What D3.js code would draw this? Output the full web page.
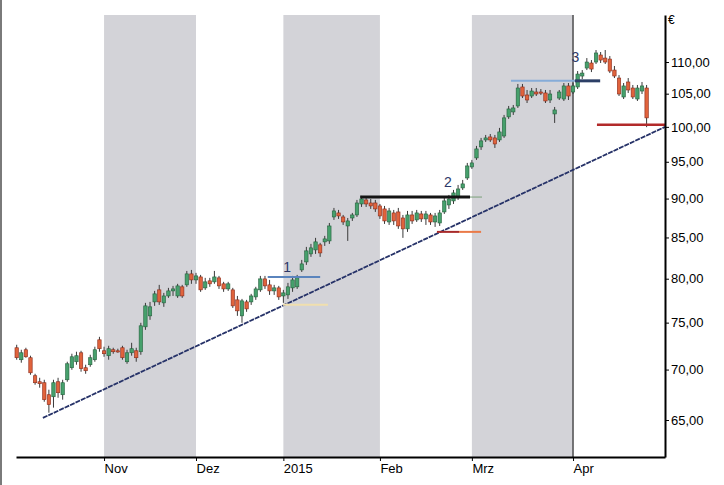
<!DOCTYPE html>
<html><head><meta charset="utf-8">
<script src="https://cdn.jsdelivr.net/npm/d3@7"></script>
<style>body{margin:0;background:#fff}svg{display:block}</style>
</head><body>
<svg id="c" width="724" height="485"></svg>
<script>
// ---- data ----
const startDate = "2014-10-07";
const endDate = "2015-04-27";
const holidays = ["2014-12-24","2014-12-25","2014-12-26","2014-12-31","2015-01-01","2015-04-03","2015-04-06"];

const open = [
72.28,71.02,72.07,71.23,69.37,68.76,68.66,67.46,67.26,68.76,
67.46,68.96,70.19,70.81,71.75,70.19,70.50,71.02,73.13,71.96,
71.44,72.07,71.96,72.28,70.81,71.75,71.96,71.86,74.54,75.75,
77.32,78.70,77.21,78.00,78.58,78.00,79.05,79.28,80.57,79.86,
80.21,78.93,79.75,79.63,80.10,79.40,78.81,78.70,77.55,75.75,
77.32,77.32,77.89,78.70,79.98,79.28,78.58,78.93,78.00,78.12,
78.93,79.05,81.04,82.00,82.97,83.46,84.08,84.45,84.57,87.60,
88.12,87.60,86.45,87.47,87.86,89.29,89.82,89.42,89.42,89.03,
88.64,86.96,88.12,88.25,87.47,86.08,87.86,87.22,87.99,87.35,
87.86,86.96,86.83,88.25,89.16,89.69,90.22,91.42,92.77,94.28,
95.54,97.10,98.10,98.53,98.39,98.10,98.67,101.48,102.22,103.12,
106.04,104.80,104.64,105.26,105.26,105.11,104.03,101.92,104.33,104.18,
106.20,105.26,106.04,107.76,109.03,109.84,110.00,111.14,110.64,110.48,
108.71,107.44,104.49,106.82,105.88,104.18,105.41,105.88];
const high = [
72.60,72.07,72.28,71.44,69.57,69.16,68.96,67.96,68.96,69.16,
68.96,70.81,71.65,71.86,71.96,70.50,71.54,72.39,73.45,72.39,
72.49,72.28,72.18,72.49,72.07,72.81,72.28,74.98,77.21,77.32,
78.58,79.28,78.35,78.93,79.16,79.40,79.28,80.92,81.04,80.69,
80.45,80.10,80.10,80.92,80.33,79.63,79.63,78.93,78.00,77.66,
77.55,78.24,79.05,80.33,80.33,79.86,79.28,79.16,78.70,79.51,
80.33,80.45,82.24,83.83,84.20,84.95,84.33,85.20,86.83,88.77,
88.51,87.86,87.47,88.12,89.82,90.35,90.22,89.95,89.82,89.29,
89.03,88.77,88.51,88.77,87.86,88.38,88.38,88.51,88.38,88.38,
88.12,88.12,88.51,90.09,90.48,91.15,91.82,92.50,94.84,95.26,
97.24,98.39,98.82,98.96,98.82,99.85,101.77,103.12,103.27,106.51,
106.51,105.57,105.88,105.88,105.72,105.57,105.57,102.97,105.57,106.66,
106.66,106.66,108.55,108.71,110.64,110.32,111.96,111.63,111.96,110.97,
109.36,107.91,106.66,107.44,106.35,106.35,106.82,106.35];
const low = [
71.02,70.71,71.23,69.47,68.46,68.16,66.77,65.70,66.19,67.16,
66.97,68.76,69.98,70.50,69.78,69.57,70.29,70.81,71.86,71.33,
71.02,71.65,71.75,71.02,70.60,71.44,70.81,71.54,74.21,75.31,
76.87,76.98,76.76,77.78,78.00,77.78,77.78,79.05,79.40,79.40,
78.47,78.70,79.05,79.40,78.81,78.47,78.58,76.64,75.75,74.98,
76.20,76.98,77.55,78.47,78.81,78.12,78.12,77.55,77.21,77.66,
78.47,78.81,80.80,81.64,82.61,82.97,82.61,83.95,84.20,87.22,
87.35,86.58,84.57,87.09,87.60,88.90,88.90,88.64,88.25,87.35,
86.71,86.58,86.58,86.08,84.95,85.70,86.71,86.96,86.96,86.58,
86.58,86.33,86.45,87.99,88.64,89.29,89.82,91.15,92.50,94.01,
95.26,96.67,97.81,97.81,96.95,97.81,98.39,101.18,101.77,102.82,
104.33,103.57,104.33,104.64,104.80,103.57,103.57,100.58,104.03,103.88,
104.03,104.95,105.72,107.28,108.71,108.39,109.68,109.84,109.68,108.23,
107.44,104.64,104.18,105.11,104.18,103.88,104.95,99.96];
const close = [
71.23,71.75,71.33,69.67,68.66,68.56,66.97,66.48,68.66,67.66,
68.66,70.60,71.33,71.44,70.09,69.88,71.23,72.07,72.18,71.65,
72.18,71.86,71.90,71.23,71.75,72.18,71.23,74.65,76.87,76.76,
78.24,77.32,78.00,78.58,78.81,79.16,78.00,80.57,79.86,80.33,
78.70,79.63,79.40,80.21,79.16,78.81,79.40,76.87,76.31,77.44,
76.53,78.00,78.81,79.98,79.16,78.58,78.93,77.89,78.35,79.05,
79.86,80.10,81.76,83.34,83.71,84.45,83.09,84.82,86.45,88.38,
87.73,86.96,87.09,87.86,89.42,89.95,89.29,89.03,88.64,87.73,
87.09,88.38,87.09,86.45,86.08,87.86,87.09,88.12,87.35,87.99,
86.96,87.73,88.12,89.69,89.95,90.75,91.28,91.96,94.42,94.84,
96.81,97.96,98.39,98.10,97.52,99.26,101.33,102.67,102.82,105.88,
104.64,104.03,105.41,104.95,105.11,103.88,104.95,102.52,105.26,106.20,
104.64,106.20,108.07,108.23,110.00,108.87,111.47,110.32,110.00,108.55,
107.76,104.95,106.20,105.57,104.49,105.88,106.20,101.33];

const yTicks = [65, 70, 75, 80, 85, 90, 95, 100, 105, 110];
const monthLabels = ["Nov", "Dez", "2015", "Feb", "Mrz", "Apr"];
const shadedMonths = ["Nov", "2015", "Mrz"];
const yDomain = [61.56, 117.87];

// support / resistance levels (trading-day index range, price)
const levelNames  = ["w1a", "w1b", "w2a", "w2b", "w2c", "w2d", "w3a", "w3b", "stop"];
const levelStart  = [54.6, 57.9, 74.7, 98.6, 91.4, 96.2, 107.5, 121.4, 126.2];
const levelEnd    = [66.0, 67.7, 98.6, 101.2, 96.2, 101.0, 121.4, 126.9, 141.0];
const levelValue  = [80.2, 77.0, 90.2, 90.2, 85.7, 85.7, 107.0, 107.0, 100.3];

const trendIdx = [5.7, 141.0];
const trendVal = [65.2, 100.0];

const waveLabels = ["1", "2", "3"];
const waveIdx = [58.8, 93.8, 121.5];
const waveVal = [80.8, 91.55, 110.0];

// ---- styles ----
const levelStyle = {
  w1a: {c: "#5a84bd", w: 2}, w1b: {c: "#f0dfae", w: 2},
  w2a: {c: "#141414", w: 3}, w2b: {c: "#7aa07a", w: 1},
  w2c: {c: "#a82a2a", w: 2}, w2d: {c: "#ea7a48", w: 2},
  w3a: {c: "#86acd8", w: 2}, w3b: {c: "#2c3f66", w: 3},
  stop: {c: "#b22a2a", w: 2.5}
};

// ---- build dates ----
const parse = d3.utcParse("%Y-%m-%d"), fmtD = d3.utcFormat("%Y-%m-%d");
const dates = [];
for (let d = parse(startDate); d <= parse(endDate); d = d3.utcDay.offset(d, 1)) {
  const wd = d.getUTCDay();
  if (wd === 0 || wd === 6) continue;
  if (holidays.includes(fmtD(d))) continue;
  dates.push(d);
}
const n = Math.min(dates.length, open.length);
const data = d3.range(n).map(i => ({i, o: open[i], h: high[i], l: low[i], c: close[i]}));

const monthStarts = [];
for (let i = 1; i < dates.length; i++) {
  if (dates[i].getUTCMonth() !== dates[i - 1].getUTCMonth()) monthStarts.push(i);
}
monthStarts.push(trendIdx[1]);

// ---- layout ----
const svg = d3.select("#c");
const L = 16, R = 665, T = 15, B = 457;
const x = d3.scaleLinear().domain([-0.15, 141]).range([L, R]);
const y = d3.scaleLog().domain(yDomain).range([B, T]);

svg.append("rect").attr("width", 724).attr("height", 485).attr("fill", "#fff");
svg.append("rect").attr("x", 0).attr("y", 0).attr("width", 2).attr("height", 485).attr("fill", "#7a7a7a");

// shaded months
monthLabels.forEach((m, k) => {
  if (!shadedMonths.includes(m)) return;
  const a = monthStarts[k], b = monthStarts[k + 1];
  svg.append("rect").attr("x", x(a)).attr("y", T).attr("width", x(b) - x(a)).attr("height", B - T)
    .attr("fill", "#d3d3d8");
});

// vertical line at Apr
svg.append("line").attr("x1", x(monthStarts[5])).attr("x2", x(monthStarts[5]))
  .attr("y1", T).attr("y2", B).attr("stroke", "#000").attr("stroke-width", 1);

// trend line
svg.append("line").attr("x1", x(trendIdx[0])).attr("y1", y(trendVal[0]))
  .attr("x2", x(trendIdx[1])).attr("y2", y(trendVal[1]))
  .attr("stroke", "#263268").attr("stroke-width", 1.8).attr("stroke-dasharray", "5,1");

// candles
const g = svg.append("g");
const bw = 3.4;
g.selectAll("line.w").data(data).join("line")
  .attr("x1", d => x(d.i)).attr("x2", d => x(d.i))
  .attr("y1", d => y(d.h)).attr("y2", d => y(d.l))
  .attr("stroke", "#3a3a3a").attr("stroke-width", 1);
g.selectAll("rect.b").data(data).join("rect")
  .attr("x", d => x(d.i) - bw / 2).attr("width", bw)
  .attr("y", d => y(Math.max(d.o, d.c)))
  .attr("height", d => Math.max(1.2, Math.abs(y(d.o) - y(d.c))))
  .attr("fill", d => d.c >= d.o ? "#46a06c" : "#e0633c")
  .attr("stroke", d => d.c >= d.o ? "#24603c" : "#8a2a1a").attr("stroke-width", 0.6);

// levels
levelNames.forEach((nm, k) => {
  const s = levelStyle[nm];
  svg.append("line").attr("x1", x(levelStart[k])).attr("x2", x(levelEnd[k]))
    .attr("y1", y(levelValue[k])).attr("y2", y(levelValue[k]))
    .attr("stroke", s.c).attr("stroke-width", s.w);
});

// wave labels
waveLabels.forEach((t, k) => {
  svg.append("text").attr("x", x(waveIdx[k])).attr("y", y(waveVal[k]))
    .attr("text-anchor", "middle").attr("font-family", "Liberation Sans, Arial, sans-serif")
    .attr("font-size", 14).attr("fill", "#2d3868").text(t);
});

// axes
const de = d3.formatLocale({decimal: ",", thousands: ".", grouping: [3], currency: ["", " €"]});
const f2 = de.format(".2f");
const ya = svg.append("g").attr("transform", `translate(${R},0)`)
  .call(d3.axisRight(y).tickValues(yTicks).tickFormat(f2).tickSize(4).tickSizeOuter(0).tickPadding(2));
ya.select(".domain").attr("stroke", "#000").attr("stroke-width", 2);
ya.selectAll("text").attr("font-family", "Liberation Sans, Arial, sans-serif").attr("font-size", 13).attr("fill", "#000");
svg.append("text").attr("x", R + 3).attr("y", 24).attr("font-family", "Liberation Sans, Arial, sans-serif")
  .attr("font-size", 12).text("€");

const xa = svg.append("g").attr("transform", `translate(0,${B})`)
  .call(d3.axisBottom(x).tickValues(monthStarts.slice(0, 6)).tickFormat((d, k) => monthLabels[k])
    .tickSize(4).tickSizeOuter(0).tickPadding(3));
xa.select(".domain").attr("stroke", "#000").attr("stroke-width", 2);
xa.selectAll("text").attr("text-anchor", "start").attr("font-family", "Liberation Sans, Arial, sans-serif")
  .attr("font-size", 13).attr("fill", "#000");
</script>
</body></html>
